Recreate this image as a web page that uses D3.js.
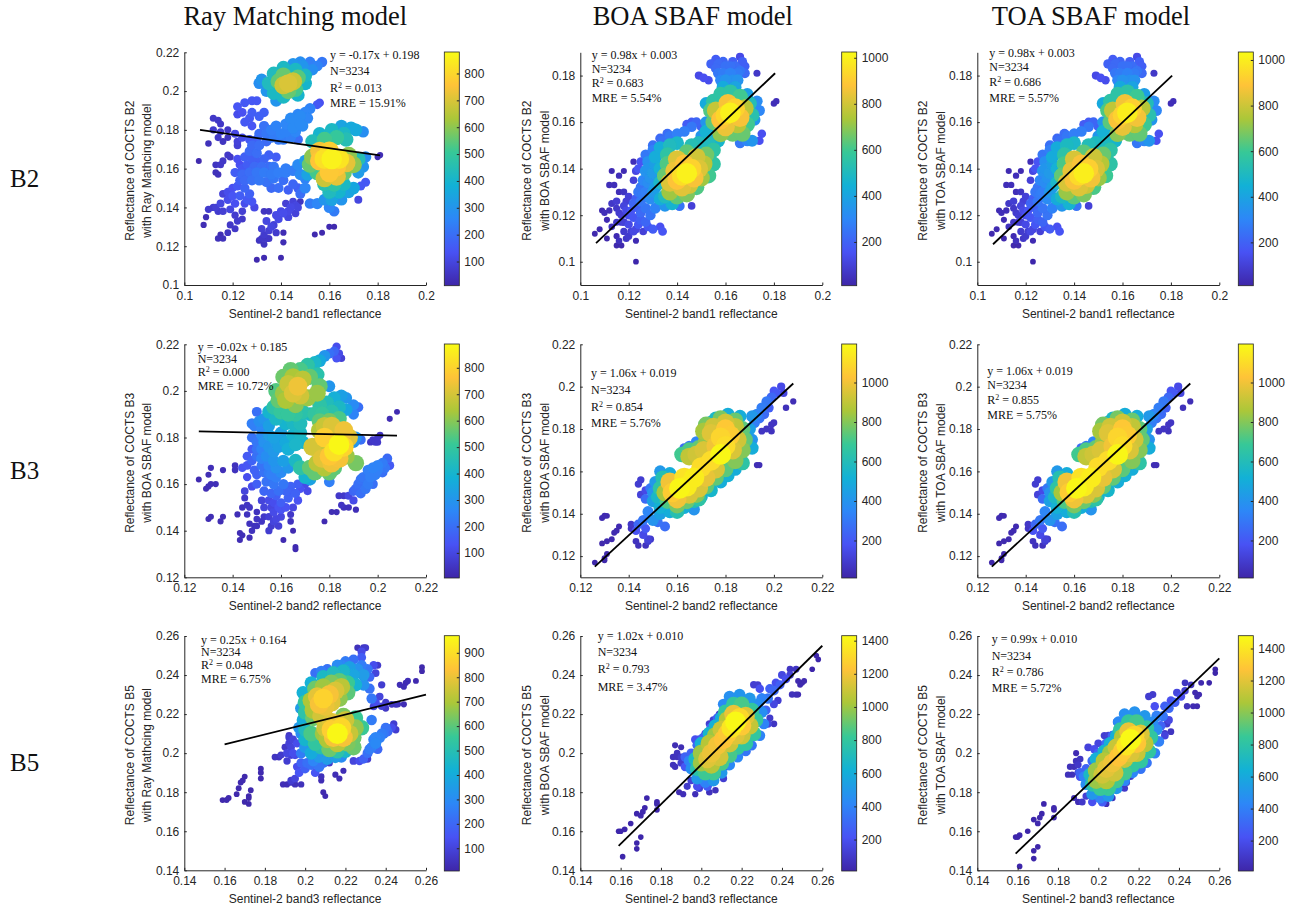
<!DOCTYPE html>
<html>
<head>
<meta charset="utf-8">
<script src="https://cdn.jsdelivr.net/npm/d3@7"></script>
<style>
  body { margin: 0; background: #fff; }
  text { fill: #262626; font-family: "Liberation Sans", Arial, sans-serif; }
  .serif { font-family: "Liberation Serif", "Times New Roman", serif; fill: #111; }
</style>
</head>
<body>
<svg id="chart" width="1300" height="910"></svg>
<script>
// each sample: [Sentinel-2 reflectance, COCTS reflectance, local point density]
const rayB2 = [[.143,.204,700],[.141,.203,680],[.145,.205,680],[.139,.205,550],[.147,.207,540],[.143,.2,560],[.141,.208,560],[.146,.201,520],
[.135,.204,430],[.137,.209,430],[.141,.212,420],[.146,.211,420],[.15,.208,420],[.15,.204,400],[.147,.198,400],[.141,.197,420],[.137,.199,420],
[.132,.206,300],[.131,.204,280],[.134,.2,300],[.138,.195,300],[.149,.213,300],[.145,.214,300],[.153,.211,280],[.155,.213,250],[.157,.215,220],[.152,.215,240],[.148,.215,280],
[.161,.165,860],[.158,.165,820],[.164,.165,830],[.156,.164,760],[.167,.163,720],[.16,.169,780],[.156,.169,740],[.163,.161,760],[.16,.158,770],[.163,.156,720],[.158,.155,680],
[.153,.166,600],[.152,.162,560],[.17,.162,600],[.168,.167,600],[.166,.158,560],[.155,.158,520],[.172,.165,450],
[.158,.175,520],[.163,.176,500],[.156,.178,400],[.161,.18,420],[.166,.178,420],[.169,.181,360],[.165,.182,340],[.171,.18,360],[.153,.174,440],[.174,.179,280],[.167,.175,450],
[.175,.166,280],[.174,.161,300],[.172,.158,320],[.158,.152,460],[.162,.152,480],[.166,.152,420],[.16,.148,430],[.164,.148,400],[.168,.148,340],[.161,.144,340],[.158,.144,300],[.165,.144,300],[.16,.14,260],[.162,.138,230],[.155,.142,260],[.152,.142,230],[.17,.15,350],[.15,.15,260],[.148,.147,200],
[.131,.178,200],[.134,.178,220],[.136,.18,240],[.138,.182,250],[.14,.178,250],[.142,.183,260],[.144,.186,270],[.146,.184,270],[.148,.187,270],[.15,.189,260],[.152,.191,250],[.146,.179,260],[.149,.182,270],[.147,.188,260],[.155,.193,150],[.156,.194,130],[.142,.179,250],[.137,.177,230],[.144,.176,240],
[.122,.192,140],[.125,.194,150],[.128,.195,150],[.13,.195,150],[.124,.189,130],[.128,.189,160],[.131,.187,170],[.133,.189,170],[.127,.186,150],[.125,.184,150],[.122,.188,120],[.128,.182,140],[.121,.178,110],[.122,.174,90],
[.112,.186,60],[.114,.185,60],[.115,.183,60],[.112,.18,70],[.115,.179,70],[.118,.18,60],[.114,.176,60],[.116,.174,50],[.118,.176,50],[.11,.173,40],[.106,.164,20],[.113,.162,50],[.116,.164,60],[.119,.166,60],[.115,.162,60],[.118,.167,60],[.113,.158,40],[.114,.157,40],[.122,.172,80],
[.122,.165,130],[.125,.166,170],[.127,.169,190],[.13,.168,200],[.128,.172,190],[.131,.172,200],[.126,.162,160],[.13,.164,170],[.135,.167,170],[.138,.166,160],
[.121,.158,160],[.124,.157,190],[.127,.158,200],[.13,.158,220],[.133,.158,230],[.136,.157,230],[.139,.158,240],[.142,.158,240],[.145,.159,240],[.147,.162,270],[.15,.164,320],[.128,.154,210],[.131,.154,220],[.134,.153,210],[.137,.155,220],[.141,.154,200],[.145,.152,180],[.142,.16,240],[.137,.161,220],[.148,.157,270],[.151,.157,340],
[.122,.151,150],[.125,.15,180],[.127,.147,170],[.123,.146,160],[.12,.146,140],[.118,.144,120],[.115,.142,100],[.113,.14,80],[.11,.139,70],[.116,.147,90],[.128,.143,140],[.125,.142,120],[.121,.142,130],[.129,.14,110],[.133,.138,50],[.135,.138,50],
[.109,.135,30],[.108,.131,30],[.122,.133,70],[.119,.131,60],[.121,.129,60],[.118,.127,50],[.124,.134,60],[.116,.124,40],[.114,.124,40],[.115,.126,30],
[.131,.123,50],[.133,.126,70],[.135,.128,80],[.137,.131,90],[.135,.124,60],[.133,.121,50],[.139,.134,110],[.141,.137,120],[.144,.14,110],[.146,.141,100],[.142,.142,80],[.138,.127,70],[.141,.127,30],[.141,.122,30],[.14,.138,110],[.148,.143,50],[.146,.137,90],
[.13,.113,20],[.133,.114,25],[.14,.114,20],[.154,.126,20],[.157,.127,20],[.16,.13,25],[.162,.13,20],[.18,.166,30],[.181,.167,30],[.175,.153,150],[.173,.151,150],[.172,.144,100],
[.133,.182,210],[.136,.176,220],[.139,.175,220],[.141,.175,230],[.147,.175,200],[.134,.174,190],[.13,.175,170],[.145,.181,270],[.151,.186,260],[.148,.183,270],[.124,.176,120],[.127,.175,150],
[.123,.162,130],[.124,.16,150],[.128,.165,170],[.133,.165,180],[.135,.161,200],[.132,.161,200],[.129,.161,190],[.126,.155,180],[.123,.154,170],[.12,.15,130],[.118,.148,120],[.126,.144,150],[.124,.138,80],[.119,.139,100],[.116,.138,80],[.121,.136,70],[.112,.14,70],[.114,.138,70],[.125,.154,190],
[.134,.133,100],[.136,.13,100],[.132,.129,80],[.134,.124,60],[.132,.124,60],[.138,.136,110],[.143,.138,110],[.145,.143,90],[.147,.14,100],[.143,.135,100],[.139,.15,200],[.136,.15,190],[.143,.149,170],[.147,.15,170],[.15,.155,250],[.153,.16,400]];

const boaB2 = [[.162,.164,1000],[.16,.163,930],[.164,.166,920],[.158,.161,880],[.166,.162,870],[.161,.168,870],[.16,.158,850],[.156,.165,780],[.168,.166,760],[.165,.159,760],
[.154,.165,620],[.155,.16,640],[.155,.169,560],[.158,.172,560],[.162,.173,560],[.166,.171,600],[.17,.168,520],[.171,.163,540],[.169,.159,600],[.163,.155,650],[.158,.155,700],
[.152,.168,420],[.159,.175,420],[.164,.175,400],[.169,.172,380],[.173,.169,320],[.174,.165,300],[.172,.161,350],
[.16,.178,340],[.165,.178,340],[.162,.181,290],[.157,.181,260],[.16,.184,240],[.164,.184,230],[.167,.186,190],[.157,.185,220],[.154,.185,200],[.156,.183,220],[.168,.184,190],
[.151,.179,150],[.153,.178,140],[.149,.18,130],[.173,.181,70],[.18,.168,40],[.181,.169,40],[.175,.155,150],[.174,.152,150],[.169,.152,300],[.167,.155,650],[.166,.151,260],[.171,.152,350],
[.144,.138,1000],[.142,.137,950],[.146,.14,920],[.14,.135,880],[.147,.136,870],[.143,.142,880],[.139,.139,850],[.149,.14,820],[.137,.134,820],[.142,.132,830],[.145,.133,800],[.151,.142,760],[.15,.136,720],[.14,.144,820],[.148,.145,800],[.152,.146,660],[.137,.13,720],[.14,.128,640],[.144,.129,680],[.148,.132,620],[.153,.137,600],[.135,.137,650],[.136,.142,620],[.155,.142,560],[.155,.148,560],[.153,.151,500],[.157,.152,470],[.136,.146,560],[.133,.134,480],[.135,.128,500],[.138,.125,460],[.133,.14,450],[.131,.145,430],[.133,.149,430],[.137,.15,500],[.14,.151,480],[.144,.147,640],[.146,.15,520],[.149,.151,500],
[.134,.152,240],[.137,.154,260],[.14,.155,280],[.143,.156,280],[.146,.158,260],[.148,.16,210],[.15,.158,200],[.144,.159,180],[.146,.16,180],[.152,.156,450],[.15,.154,350],
[.128,.143,330],[.127,.139,340],[.13,.138,370],[.126,.135,300],[.128,.134,320],[.131,.132,380],[.124,.13,260],[.127,.13,280],[.129,.127,320],[.125,.126,260],[.122,.125,210],[.133,.127,430],[.135,.124,350],[.131,.123,290],[.129,.12,250],[.125,.121,220],[.122,.119,170],[.12,.116,130],[.124,.116,170],[.127,.117,210],[.122,.113,120],[.119,.11,70],[.12,.111,80],[.123,.114,120],[.126,.113,100],[.13,.114,180],[.133,.115,150],[.134,.113,160],
[.125,.143,160],[.123,.139,120],[.122,.143,40],[.118,.13,60],[.118,.124,110],[.115,.126,90],[.113,.125,70],[.115,.123,70],[.112,.133,40],[.114,.133,40],[.113,.139,30],[.116,.137,40],[.118,.139,30],[.116,.13,40],[.11,.121,40],[.112,.122,40],[.109,.122,30],[.111,.118,30],[.117,.12,90],[.119,.122,130],[.115,.117,70],[.113,.115,50],[.106,.112,20],[.108,.114,25],[.111,.11,20],[.115,.111,30],[.115,.107,20],[.117,.107,20],[.123,.109,30],[.123,.1,15],[.116,.109,50],[.141,.124,250],[.146,.124,100],
[.124,.123,190],[.12,.12,150],[.127,.123,250],[.123,.127,190],[.121,.122,160],[.118,.117,100],[.121,.113,90],[.118,.113,80],[.117,.117,80],[.125,.118,190],[.128,.115,170],[.126,.129,270],[.13,.13,360],[.129,.136,340],[.125,.132,250],[.122,.135,100],[.12,.128,100],[.119,.126,100],[.116,.121,80],[.124,.14,160],[.127,.146,260],[.13,.148,280],[.131,.142,380],[.128,.14,350],[.13,.15,240],[.133,.153,220],[.136,.155,230],
[.158,.178,300],[.163,.178,330],[.168,.181,220],[.166,.182,250],[.159,.181,270],[.165,.181,270],[.162,.184,240],[.159,.186,210],[.163,.186,190],[.156,.187,180],[.166,.188,130],[.152,.16,350],[.153,.155,400]];

const rayB3 = [[.167,.202,740],[.165,.199,710],[.168,.198,690],[.163,.203,680],[.169,.205,660],[.165,.206,640],[.161,.199,620],[.162,.196,640],[.166,.194,600],[.171,.197,620],[.159,.196,560],[.158,.2,540],[.161,.206,570],[.164,.209,560],[.168,.209,530],[.171,.211,480],[.174,.212,410],[.176,.213,360],[.178,.215,300],[.18,.216,200],[.182,.217,180],[.183,.219,120],[.184,.216,110],[.185,.214,80],[.183,.214,130],[.172,.206,560],[.175,.207,470],[.176,.202,560],[.175,.199,620],[.18,.202,300],
[.157,.193,480],[.16,.191,500],[.163,.19,500],[.166,.19,490],[.169,.191,470],[.172,.19,420],[.155,.191,400],[.158,.188,420],[.162,.186,400],[.165,.186,420],[.168,.186,440],
[.176,.194,480],[.179,.195,440],[.182,.197,380],[.185,.198,330],[.187,.197,300],[.19,.194,270],[.192,.193,200],[.184,.193,420],[.181,.191,470],[.177,.19,500],[.187,.192,350],[.174,.19,490],[.19,.19,250],[.176,.187,550],[.18,.187,580],[.184,.188,530],
[.15,.191,200],[.151,.187,280],[.153,.188,300],[.149,.185,240],[.148,.186,240],[.152,.184,260],[.155,.185,330],
[.178,.185,680],[.181,.185,710],[.176,.183,650],[.186,.183,740],[.188,.18,720],[.184,.177,880],[.182,.174,830],[.186,.176,800],[.18,.172,770],[.184,.171,750],[.177,.171,720],[.181,.169,740],[.175,.169,660],[.178,.167,650],[.182,.167,550],[.187,.172,620],[.174,.165,560],[.172,.167,560],[.18,.165,560],
[.173,.176,700],[.175,.176,680],[.178,.18,790],[.191,.169,580],[.18,.161,240],[.171,.157,110],
[.15,.178,220],[.148,.18,210],[.148,.175,150],[.153,.178,290],[.155,.176,300],[.157,.18,340],[.16,.182,340],[.154,.172,280],[.157,.174,310],[.152,.171,250],[.155,.168,250],[.158,.167,290],[.161,.17,330],[.163,.175,380],[.166,.177,410],[.169,.178,400],[.16,.165,270],[.156,.164,240],[.153,.165,210],[.15,.164,170],[.149,.166,170],[.146,.163,120],[.144,.167,130],[.146,.168,140],[.154,.161,210],[.157,.16,220],[.161,.16,220],[.153,.157,180],[.156,.156,180],[.166,.17,420],[.168,.167,480],[.17,.163,400],[.172,.162,340],[.15,.16,160],[.148,.159,120],
[.157,.152,120],[.16,.152,160],[.163,.154,170],[.166,.156,170],[.168,.158,130],[.17,.16,110],[.157,.148,110],[.16,.149,130],[.155,.146,80],[.158,.145,100],[.156,.142,70],[.159,.142,80],[.155,.14,70],[.165,.15,100],[.164,.147,60],[.152,.144,50],[.15,.145,50],[.149,.142,40],[.148,.14,40],[.147,.137,30],[.144,.138,30],[.143,.139,25],[.143,.136,25],[.15,.148,40],[.146,.151,50],[.145,.154,60],[.147,.15,50],[.145,.157,90],[.152,.153,90],[.142,.147,30],[.161,.136,20],[.166,.133,20],[.166,.132,20],[.164,.144,40],[.165,.14,20],
[.126,.162,20],[.129,.158,25],[.13,.159,30],[.131,.16,30],[.133,.16,30],[.13,.164,25],[.131,.167,30],[.136,.166,30],[.141,.168,40],[.141,.166,40],[.13,.145,25],[.131,.146,25],[.135,.144,25],[.136,.146,25],
[.19,.157,180],[.192,.16,200],[.194,.163,220],[.196,.166,240],[.198,.167,250],[.2,.168,250],[.202,.169,230],[.204,.171,190],[.205,.168,150],[.19,.153,110],[.193,.156,200],[.196,.16,230],[.199,.164,240],[.202,.165,200],[.188,.155,100],
[.184,.155,60],[.186,.155,60],[.183,.148,30],[.181,.148,25],[.186,.15,40],[.188,.15,40],[.191,.149,30],[.178,.144,20],[.185,.151,50],
[.198,.179,60],[.2,.18,60],[.199,.178,60],[.201,.181,50],[.2,.178,60],[.197,.178,50],[.205,.188,25],[.208,.191,20],[.191,.18,300],[.193,.179,200],[.19,.178,300],
[.152,.181,270],[.155,.181,320],[.158,.178,320],[.15,.175,210],[.152,.175,250],[.15,.172,200],[.157,.17,300],[.159,.176,330],[.162,.178,360],[.165,.181,400],[.168,.182,420],[.163,.167,300],[.158,.163,240],[.155,.165,230],[.152,.168,210],[.148,.17,170],[.146,.172,150],[.159,.157,200],[.162,.157,180],[.164,.159,170],[.158,.155,160],[.155,.153,110],[.153,.15,90],[.156,.15,100],[.159,.15,130],[.162,.15,130],[.153,.146,60],[.157,.144,90],[.16,.146,100],[.15,.142,40],[.147,.143,40],[.146,.147,40],[.144,.15,40],[.163,.157,160],[.167,.153,130],[.167,.16,160],
[.191,.158,190],[.193,.162,210],[.195,.158,220],[.197,.163,240],[.2,.166,240],[.203,.167,220],[.198,.16,200]];

const boaB3 = [[.161,.152,1180],[.164,.153,1150],[.163,.157,1120],[.167,.157,1150],[.17,.162,1100],[.174,.165,1100],[.178,.168,1180],[.18,.172,1100],[.178,.176,1080],[.182,.177,1050],[.18,.18,1040],[.158,.15,1050],[.16,.147,1000],
[.157,.155,1000],[.165,.149,950],[.169,.152,950],[.172,.157,980],[.176,.161,950],[.183,.17,950],[.185,.175,930],[.176,.172,1000],[.174,.178,960],[.175,.181,930],[.18,.183,930],[.184,.181,900],[.171,.17,950],[.168,.168,930],[.165,.167,900],
[.155,.15,850],[.156,.146,720],[.153,.152,650],[.154,.157,620],[.152,.148,560],[.16,.144,780],[.164,.146,760],[.168,.149,800],[.172,.153,750],[.176,.157,750],[.18,.161,740],[.184,.165,800],[.187,.17,800],[.188,.175,750],[.187,.18,740],[.184,.184,760],[.178,.185,780],[.172,.182,780],[.171,.179,850],[.162,.168,700],[.165,.17,720],[.169,.171,750],[.172,.174,820],
[.157,.159,500],[.153,.16,420],[.151,.155,420],[.15,.15,400],[.15,.146,450],[.153,.143,520],[.157,.141,500],[.16,.141,620],[.163,.143,500],[.167,.146,600],[.17,.148,500],[.174,.151,550],[.178,.155,500],[.181,.158,520],[.184,.161,500],[.187,.164,650],[.19,.171,430],[.191,.175,400],[.19,.18,450],[.186,.186,500],[.181,.187,500],[.176,.185,560],[.174,.183,570],[.165,.172,300],[.168,.174,350],[.163,.171,260],[.167,.172,250],
[.191,.186,420],[.193,.187,350],[.195,.19,320],[.197,.193,300],[.199,.195,250],[.201,.197,200],[.203,.2,150],[.204,.197,130],[.2,.198,180],[.198,.19,220],[.196,.187,260],[.194,.185,280],[.192,.183,320],[.208,.193,40],[.205,.19,50],[.195,.179,70],[.197,.18,70],[.199,.182,70],[.2,.183,70],[.199,.179,60],[.191,.171,500],[.193,.163,40],[.194,.163,40],
[.148,.141,350],[.146,.137,300],[.144,.135,250],[.147,.133,200],[.15,.137,400],[.153,.14,450],[.143,.132,180],[.146,.13,150],[.148,.128,120],[.152,.136,280],[.155,.134,270],[.148,.127,100],[.141,.135,80],[.141,.133,70],[.143,.127,60],[.144,.125,50],[.147,.125,60],[.149,.128,90],
[.129,.138,30],[.13,.139,30],[.131,.139,25],[.136,.134,30],[.135,.132,30],[.134,.131,25],[.133,.128,25],[.131,.127,25],[.129,.126,20],[.13,.119,20],[.131,.121,20],[.13,.118,20],[.126,.117,15],[.145,.156,100],[.144,.154,100],[.145,.149,120],[.147,.151,150],[.147,.147,260],[.149,.152,300],[.167,.142,400],[.169,.147,650]];

const rayB5 = [[.209,.228,870],[.207,.225,820],[.212,.23,820],[.206,.229,790],[.21,.224,800],[.215,.232,770],[.213,.226,780],[.218,.234,720],[.204,.222,700],[.203,.227,700],[.205,.233,620],[.209,.234,680],[.213,.236,640],[.217,.237,600],[.221,.236,560],[.221,.231,600],[.217,.228,660],[.2,.226,540],[.2,.221,520],[.204,.218,620],[.208,.219,760],[.199,.231,420],[.203,.236,420],[.209,.239,460],[.214,.241,470],[.219,.242,450],[.224,.24,380],[.225,.235,430],[.199,.217,400],[.198,.223,350],
[.205,.241,220],[.208,.242,260],[.211,.243,230],[.216,.245,300],[.22,.247,250],[.224,.248,220],[.228,.249,170],[.228,.252,120],[.23,.254,70],[.229,.254,60],[.226,.254,40],[.228,.245,260],[.231,.243,240],[.229,.24,350],[.232,.239,200],[.234,.245,130],[.236,.245,70],[.235,.241,100],[.238,.235,80],[.232,.233,230],[.229,.235,320],
[.233,.228,240],[.235,.226,130],[.237,.229,100],[.24,.226,70],[.238,.224,90],[.234,.224,100],[.24,.223,60],
[.216,.21,960],[.213,.212,860],[.218,.213,880],[.214,.208,820],[.219,.208,820],[.216,.215,800],[.22,.217,750],[.213,.216,780],[.222,.21,740],[.211,.207,700],[.216,.205,720],[.221,.205,640],[.225,.213,660],[.225,.218,560],[.224,.208,620],[.228,.213,560],[.209,.21,680],[.21,.213,750],[.219,.219,640],
[.205,.205,540],[.208,.203,500],[.212,.202,620],[.216,.201,520],[.22,.201,450],[.224,.203,620],[.203,.21,580],[.2,.212,470],[.197,.213,330],[.2,.207,440],[.203,.2,400],[.207,.198,340],[.211,.197,350],[.215,.198,350],[.218,.198,300],[.2,.203,330],[.198,.2,250],[.204,.196,280],[.201,.195,220],[.2,.192,180],[.197,.19,150],[.195,.187,100],[.193,.186,80],[.207,.193,240],[.205,.19,150],[.209,.195,220],[.212,.195,70],
[.196,.205,130],[.194,.207,100],[.192,.209,60],[.193,.203,100],[.191,.2,110],[.195,.199,120],[.19,.203,60],[.187,.198,50],[.185,.198,50],[.188,.199,70],[.193,.199,90],[.192,.208,80],[.198,.21,300],
[.224,.196,100],[.227,.196,130],[.229,.197,180],[.231,.2,220],[.233,.203,260],[.235,.205,290],[.237,.208,270],[.239,.21,240],[.241,.211,200],[.243,.213,130],[.245,.212,80],[.244,.215,80],[.232,.202,250],[.236,.202,200],[.234,.207,270],[.231,.197,80],[.233,.217,250],
[.208,.188,40],[.208,.186,30],[.209,.18,20],[.21,.178,20],[.215,.189,30],[.217,.187,30],[.219,.191,30],[.198,.184,40],[.195,.184,40],[.191,.184,30],[.189,.184,30],[.193,.185,50],[.178,.192,20],[.178,.19,20],[.178,.187,20],[.159,.176,15],[.161,.176,20],[.162,.177,20],[.166,.179,15],[.168,.185,20],[.169,.186,20],[.167,.182,20],[.17,.188,15],[.17,.175,15],[.172,.174,15],[.172,.178,15],[.173,.181,15],[.172,.177,15],
[.243,.225,50],[.245,.225,50],[.246,.225,40],[.249,.225,30],[.247,.235,30],[.25,.236,30],[.251,.237,30],[.249,.234,30],[.255,.237,20],[.258,.244,15],[.258,.242,15],
[.203,.194,220],[.198,.195,190],[.196,.193,130],[.194,.2,130],[.192,.205,90],[.191,.196,80],[.238,.21,250],[.24,.213,230],[.235,.208,280],[.222,.244,360],[.226,.243,320],[.218,.245,280]];

const boaB5 = [[.217,.216,1420],[.215,.213,1350],[.219,.218,1300],[.213,.21,1250],[.211,.207,1230],[.208,.204,1200],[.205,.2,1180],[.203,.197,1150],[.22,.214,1250],[.216,.22,1180],[.222,.219,1150],[.214,.205,1100],[.21,.212,1100],[.207,.209,1000],[.204,.205,1050],[.2,.2,1000],[.2,.195,1000],[.205,.194,1050],[.209,.198,1120],[.217,.209,1150],[.22,.209,1100],[.224,.214,1080],[.213,.217,1050],
[.212,.221,800],[.216,.225,800],[.22,.225,850],[.225,.222,800],[.227,.217,800],[.226,.21,800],[.222,.205,800],[.218,.203,800],[.214,.199,850],[.21,.195,850],[.206,.19,830],[.202,.19,830],[.198,.192,760],[.197,.197,680],[.2,.205,620],[.204,.21,650],[.207,.214,620],[.21,.218,600],
[.211,.225,430],[.214,.229,460],[.219,.23,480],[.224,.228,500],[.228,.225,450],[.23,.221,450],[.231,.215,400],[.229,.209,400],[.225,.204,350],[.222,.201,350],[.218,.198,420],[.214,.194,420],[.21,.19,500],[.206,.186,500],[.202,.185,400],[.198,.187,500],[.195,.192,450],[.194,.196,400],[.192,.198,280],[.195,.2,280],[.198,.204,300],[.201,.208,280],[.205,.213,320],[.208,.218,280],[.203,.183,250],[.198,.183,200],
[.23,.228,400],[.229,.233,200],[.233,.228,350],[.236,.232,300],[.239,.235,260],[.242,.238,200],[.244,.24,130],[.247,.243,80],[.234,.233,270],[.237,.236,200],[.24,.24,160],[.244,.243,80],[.232,.222,280],[.236,.225,160],[.238,.227,120],[.234,.218,100],[.236,.215,80],[.233,.215,150],[.245,.23,60],[.248,.23,40],[.247,.23,50],[.249,.235,30],[.25,.236,30],[.251,.237,30],[.248,.237,30],[.255,.243,15],[.257,.25,15],[.258,.248,15],[.228,.235,110],[.226,.235,120],
[.192,.193,230],[.19,.195,120],[.187,.193,60],[.186,.194,60],[.188,.198,60],[.188,.2,70],[.19,.203,40],[.187,.204,40],[.186,.198,60],[.19,.198,100],[.197,.207,200],[.199,.207,200],[.202,.21,160],[.204,.215,120],[.206,.217,130],[.209,.22,120],[.195,.186,130],[.193,.183,100],[.191,.179,50],[.189,.18,40],[.197,.179,50],[.204,.18,70],[.207,.181,60],[.199,.182,130],[.213,.193,100],[.211,.187,120],
[.159,.16,15],[.162,.161,20],[.16,.16,20],[.165,.164,15],[.168,.169,20],[.17,.168,25],[.171,.17,25],[.172,.172,20],[.173,.177,20],[.178,.171,20],[.178,.175,20],[.178,.174,25],[.168,.154,15],[.17,.157,15],[.168,.151,15],[.161,.147,15]];

const toaB5 = [[.216,.207,1470],[.214,.204,1400],[.218,.209,1340],[.212,.201,1300],[.21,.198,1270],[.207,.195,1230],[.204,.192,1200],[.202,.189,1150],[.219,.205,1280],[.215,.211,1220],[.221,.21,1180],[.213,.197,1130],[.209,.203,1130],[.206,.2,1030],[.203,.196,1080],[.199,.191,1030],[.199,.186,1030],[.204,.186,1080],[.208,.19,1150],[.216,.2,1180],[.219,.2,1130],[.223,.205,1100],[.212,.208,1080],
[.211,.212,820],[.215,.216,830],[.219,.216,870],[.224,.213,820],[.226,.208,820],[.225,.201,820],[.221,.196,820],[.217,.194,830],[.213,.19,870],[.209,.186,870],[.205,.182,850],[.201,.182,850],[.197,.184,780],[.196,.189,700],[.199,.197,640],[.203,.201,670],[.206,.205,640],[.209,.209,620],
[.21,.216,440],[.213,.22,470],[.218,.221,490],[.223,.219,510],[.227,.216,460],[.229,.212,460],[.23,.206,410],[.228,.2,410],[.224,.195,360],[.221,.192,360],[.217,.19,430],[.213,.186,430],[.209,.182,510],[.205,.178,510],[.201,.177,410],[.197,.179,510],[.194,.184,460],[.193,.188,410],[.191,.19,290],[.194,.192,290],[.197,.196,310],[.2,.2,290],[.204,.205,330],[.207,.209,290],[.202,.175,260],[.197,.175,210],
[.229,.219,410],[.228,.224,210],[.232,.219,360],[.235,.223,310],[.238,.226,270],[.241,.229,210],[.243,.232,130],[.246,.235,80],[.233,.224,280],[.236,.227,210],[.239,.231,160],[.243,.236,80],[.231,.214,290],[.235,.217,170],[.234,.215,120],[.233,.21,100],[.236,.211,80],[.233,.209,150],[.244,.224,60],[.247,.224,40],[.249,.224,30],[.249,.229,30],[.25,.23,30],[.251,.236,30],[.248,.231,30],[.255,.236,15],[.258,.243,15],[.258,.241,15],[.227,.23,110],[.225,.229,120],
[.191,.188,230],[.19,.19,120],[.187,.189,60],[.185,.189,60],[.188,.193,60],[.189,.196,70],[.189,.2,40],[.191,.197,80],[.186,.193,60],[.19,.194,100],[.195,.203,150],[.198,.202,200],[.2,.205,160],[.203,.209,120],[.205,.209,130],[.209,.216,120],[.194,.178,130],[.192,.175,100],[.19,.175,50],[.188,.177,40],[.197,.175,50],[.204,.174,50],[.207,.177,60],[.199,.177,130],[.214,.185,100],[.216,.188,100],[.213,.182,100],
[.159,.157,15],[.161,.158,20],[.16,.157,20],[.165,.16,15],[.168,.166,20],[.17,.164,25],[.171,.167,25],[.172,.169,20],[.173,.174,20],[.178,.167,20],[.178,.171,20],[.178,.172,25],[.168,.15,15],[.17,.152,15],[.168,.146,15],[.161,.142,15]];

const fitRayB2 = [[.1065,.18],[.181,.1668]];
const fitBoaB2 = [[.1065,.108],[.1805,.181]];
const fitToaB2 = [[.1065,.1075],[.1805,.18]];
const fitRayB3 = [[.126,.1826],[.208,.1808]];
const fitBoaB3 = [[.126,.115],[.208,.2015]];
const fitToaB3 = [[.126,.115],[.208,.2015]];
const fitRayB5 = [[.16,.2045],[.26,.23]];
const fitBoaB5 = [[.159,.1525],[.26,.255]];
const fitToaB5 = [[.159,.1485],[.26,.2485]];

const ticksB2Y = [.1, .12, .14, .16, .18, .2, .22];
const ticksB2YShort = [.1, .12, .14, .16, .18];
const ticksB2X = [.1, .12, .14, .16, .18, .2];
const ticksB3 = [.12, .14, .16, .18, .2, .22];
const ticksB5 = [.14, .16, .18, .2, .22, .24, .26];

const barTicks900 = [100, 200, 300, 400, 500, 600, 700, 800, 900];
const barTicks1000 = [200, 400, 600, 800, 1000];
const barTicks1400 = [200, 400, 600, 800, 1000, 1200, 1400];

const columnTitles = ["Ray Matching model", "BOA SBAF model", "TOA SBAF model"];
const rowLabels = ["B2", "B3", "B5"];
const parula = ["#3e26a8", "#4852f4", "#2d87f7", "#12b1d6", "#37c897", "#abc739", "#fec338", "#f9fb15"];

const colX = [[184.3, 426, 444.3], [580.3, 822.3, 841.7], [977.3, 1219.3, 1238.3]];
const rowY = [[52.3, 285], [344.3, 577.3], [636, 870.3]];

const panels = [
  { col: 0, row: 0, pts: rayB2, fit: fitRayB2, xd: [.1, .2], yd: [.1, .22], xt: ticksB2X, yt: ticksB2Y, cd: [10, 880], ct: barTicks900.slice(0, 8), band: "B2", model: "Ray Mathcing", s2: "band1",
    note: ["y = -0.17x + 0.198", "N=3234", "0.013", "15.91%"], nx: 330, ny: [55, 71, 88, 103] },
  { col: 1, row: 0, pts: boaB2, fit: fitBoaB2, xd: [.1, .2], yd: [.09, .19], xt: ticksB2X, yt: ticksB2YShort, cd: [10, 1025], ct: barTicks1000, band: "B2", model: "BOA SBAF", s2: "band1",
    note: ["y = 0.98x + 0.003", "N=3234", "0.683", "5.54%"], nx: 591.7, ny: [55, 69, 83, 98] },
  { col: 2, row: 0, pts: boaB2, fit: fitToaB2, xd: [.1, .2], yd: [.09, .19], xt: ticksB2X, yt: ticksB2YShort, cd: [10, 1035], ct: barTicks1000, band: "B2", model: "TOA SBAF", s2: "band1",
    note: ["y = 0.98x + 0.003", "N=3234", "0.686", "5.57%"], nx: 989.3, ny: [52.7, 67.3, 82.3, 97.7] },
  { col: 0, row: 1, pts: rayB3, fit: fitRayB3, xd: [.12, .22], yd: [.12, .22], xt: ticksB3, yt: ticksB3, cd: [5, 890], ct: barTicks900.slice(0, 8), band: "B3", model: "BOA SBAF", s2: "band2",
    note: ["y = -0.02x + 0.185", "N=3234", "0.000", "10.72%"], nx: 197.7, ny: [346.7, 359, 372, 385.7] },
  { col: 1, row: 1, pts: boaB3, fit: fitBoaB3, xd: [.12, .22], yd: [.11, .22], xt: ticksB3, yt: ticksB3, cd: [10, 1195], ct: barTicks1000, band: "B3", model: "BOA SBAF", s2: "band2",
    note: ["y = 1.06x + 0.019", "N=3234", "0.854", "5.76%"], nx: 591, ny: [373.3, 390, 406.7, 423.3] },
  { col: 2, row: 1, pts: boaB3, fit: fitToaB3, xd: [.12, .22], yd: [.11, .22], xt: ticksB3, yt: ticksB3, cd: [10, 1195], ct: barTicks1000, band: "B3", model: "TOA SBAF", s2: "band2",
    note: ["y = 1.06x + 0.019", "N=3234", "0.855", "5.75%"], nx: 987.3, ny: [370.7, 385, 400.3, 415.3] },
  { col: 0, row: 2, pts: rayB5, fit: fitRayB5, xd: [.14, .26], yd: [.14, .26], xt: ticksB5, yt: ticksB5, cd: [7, 970], ct: barTicks900, band: "B5", model: "Ray Mathcing", s2: "band3",
    note: ["y = 0.25x + 0.164", "N=3234", "0.048", "6.75%"], nx: 201, ny: [640, 652.5, 665.5, 679] },
  { col: 1, row: 2, pts: boaB5, fit: fitBoaB5, xd: [.14, .26], yd: [.14, .26], xt: ticksB5, yt: ticksB5, cd: [10, 1430], ct: barTicks1400, band: "B5", model: "BOA SBAF", s2: "band3",
    note: ["y = 1.02x + 0.010", "N=3234", "0.793", "3.47%"], nx: 597.7, ny: [635.7, 652.3, 669, 687.3] },
  { col: 2, row: 2, pts: toaB5, fit: fitToaB5, xd: [.14, .26], yd: [.14, .26], xt: ticksB5, yt: ticksB5, cd: [10, 1480], ct: barTicks1400, band: "B5", model: "TOA SBAF", s2: "band3",
    note: ["y = 0.99x + 0.010", "N=3234", "0.786", "5.72%"], nx: 991.7, ny: [639.3, 655.7, 671.7, 688.3] }
];

const svg = d3.select("#chart");

svg.append("defs").append("filter").attr("id", "soft")
  .append("feGaussianBlur").attr("stdDeviation", 0.5);

const titleX = [295.3, 692.8, 1091];
columnTitles.forEach((t, i) => {
  svg.append("text").attr("class", "serif")
    .attr("x", titleX[i]).attr("y", 25)
    .attr("text-anchor", "middle")
    .style("font-size", "26.5px")
    .text(t);
});

const rowLabelY = [187, 479, 771];
rowLabels.forEach((t, i) => {
  svg.append("text").attr("class", "serif")
    .attr("x", 10).attr("y", rowLabelY[i])
    .style("font-size", "25px")
    .text(t);
});

const labelX = [[130, 146.7], [526.7, 545], [922.7, 940.7]];

panels.forEach((p, idx) => {
  const [x0, x1, barX] = colX[p.col];
  const [y0, y1] = rowY[p.row];

  const x = d3.scaleLinear().domain(p.xd).range([x0, x1]);
  const y = d3.scaleLinear().domain(p.yd).range([y1, y0]);

  const colorStops = parula.map((c, i) => p.cd[0] + (p.cd[1] - p.cd[0]) * i / (parula.length - 1));
  const color = d3.scaleLinear().domain(colorStops).range(parula).clamp(true);
  // denser samples stand for more overlapping points, so they cover more
  const size = d3.scalePow().exponent(0.8).domain([0, p.cd[1]]).range([2.6, 10.5]);

  const g = svg.append("g");

  g.append("g").attr("filter", "url(#soft)")
    .selectAll("circle")
    .data(p.pts.slice().sort((a, b) => d3.ascending(a[2], b[2])))
    .enter().append("circle")
    .attr("cx", d => x(d[0]))
    .attr("cy", d => y(d[1]))
    .attr("r", d => size(d[2]))
    .attr("fill", d => color(d[2]));

  g.append("line")
    .attr("x1", x(p.fit[0][0])).attr("y1", y(p.fit[0][1]))
    .attr("x2", x(p.fit[1][0])).attr("y2", y(p.fit[1][1]))
    .attr("stroke", "#000").attr("stroke-width", 1.8);

  const xAxis = d3.axisBottom(x).tickValues(p.xt).tickSize(-2.5).tickSizeOuter(0).tickPadding(6).tickFormat(d => String(d));
  const yAxis = d3.axisLeft(y).tickValues(p.yt).tickSize(-2.5).tickSizeOuter(0).tickPadding(5).tickFormat(d => String(d));

  [g.append("g").attr("transform", `translate(0,${y1})`).call(xAxis),
   g.append("g").attr("transform", `translate(${x0},0)`).call(yAxis)].forEach(a => {
    a.selectAll("text").style("font-size", "12px").style("fill", "#262626");
    a.selectAll("line").attr("stroke", "#262626");
    a.select(".domain").attr("stroke", "#262626");
  });

  g.append("text")
    .attr("x", (x0 + x1) / 2).attr("y", y1 + 33)
    .attr("text-anchor", "middle")
    .style("font-size", "12px")
    .text(`Sentinel-2 ${p.s2} reflectance`);

  const midY = (y0 + y1) / 2 + 2;
  [`Reflectance of COCTS ${p.band}`, `with ${p.model} model`].forEach((t, i) => {
    g.append("text")
      .attr("transform", `translate(${labelX[p.col][i]},${midY}) rotate(-90)`)
      .attr("text-anchor", "middle")
      .attr("dy", "0.35em")
      .style("font-size", "12px")
      .text(t);
  });

  // fit statistics
  const lines = [p.note[0], p.note[1], null, `MRE = ${p.note[3]}`];
  lines.forEach((t, i) => {
    const txt = g.append("text").attr("class", "serif")
      .attr("x", p.nx).attr("y", p.ny[i]).attr("dy", "0.33em")
      .style("font-size", "12px");
    if (t) txt.text(t);
    else {
      txt.append("tspan").text("R");
      txt.append("tspan").attr("dy", -4).style("font-size", "8px").text("2");
      txt.append("tspan").attr("dy", 4).text(` = ${p.note[2]}`);
    }
  });

  // colorbar
  const barW = 15;
  const barTop = y0 - 0.3, barBottom = y1 + 0.7;
  const cy = d3.scaleLinear().domain(p.cd).range([barBottom, barTop]);
  const defs = g.append("defs");
  const grad = defs.append("linearGradient").attr("id", `bar${idx}`)
    .attr("x1", 0).attr("x2", 0).attr("y1", 1).attr("y2", 0);
  parula.forEach((c, i) => {
    grad.append("stop").attr("offset", i / (parula.length - 1)).attr("stop-color", c);
  });
  g.append("rect")
    .attr("x", barX).attr("y", barTop)
    .attr("width", barW).attr("height", barBottom - barTop)
    .attr("fill", `url(#bar${idx})`)
    .attr("stroke", "#262626").attr("stroke-width", 0.8);

  const barAxis = d3.axisRight(cy).tickValues(p.ct).tickSize(-2.5).tickSizeOuter(0).tickPadding(5).tickFormat(d => String(d));
  const ba = g.append("g").attr("transform", `translate(${barX + barW},0)`).call(barAxis);
  ba.select(".domain").remove();
  ba.selectAll("line").attr("stroke", "#262626");
  ba.selectAll("text").style("font-size", "12px").style("fill", "#262626");
});
</script>
</body>
</html>
